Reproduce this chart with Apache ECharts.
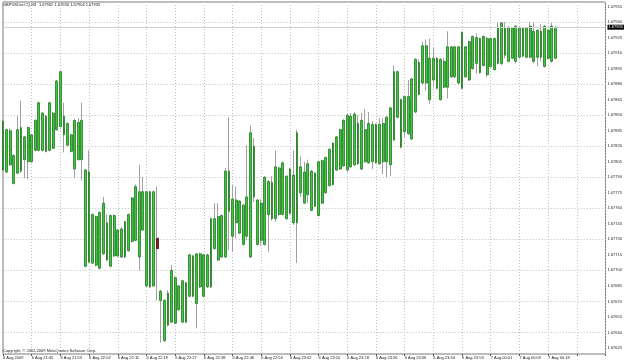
<!DOCTYPE html>
<html>
<head>
<meta charset="utf-8">
<script src="https://cdn.jsdelivr.net/npm/echarts@6/dist/echarts.min.js"></script>
<style>
  html, body { margin: 0; padding: 0; background: #fff; }
  #chart { width: 625px; height: 363px; }
</style>
</head>
<body>
<div id="chart"></div>
<script>
// GBPUSD M1, 6-7 Aug 2009 (MetaTrader screenshot)
const symbolTitle = 'GBPUSDecCQ,M1  1.67905 1.67936 1.67904 1.67935';
const copyright = 'Copyright, \u00a9 2002-2009 MetaQuotes Software Corp.';

// one label every 8 bars
const tickLabels = ['6 Aug 2009', '6 Aug 21:45', '6 Aug 21:53', '6 Aug 22:02', '6 Aug 22:11',
  '6 Aug 22:19', '6 Aug 22:27', '6 Aug 22:38', '6 Aug 22:46', '6 Aug 22:54', '6 Aug 23:02',
  '6 Aug 23:10', '6 Aug 23:18', '6 Aug 23:26', '6 Aug 23:36', '6 Aug 23:44', '6 Aug 23:53',
  '7 Aug 00:01', '7 Aug 00:09', '7 Aug 00:18'];

const opens = [
  1.67844, 1.67795, 1.67835, 1.67811, 1.67794, 1.67838, 1.67807, 1.67838, 1.67805, 1.67845,
  1.67816, 1.67852, 1.67815, 1.67862, 1.67818, 1.67836, 1.67892, 1.67831, 1.67842, 1.67815,
  1.67845, 1.67807, 1.67845, 1.67704, 1.67795, 1.67707, 1.67752, 1.67702, 1.67765, 1.67710,
  1.67753, 1.67714, 1.67739, 1.67713, 1.67747, 1.67719, 1.67770, 1.67729, 1.67776, 1.67739,
  1.67776, 1.67684, 1.67776, 1.67731, 1.67680, 1.67632, 1.67678, 1.67650, 1.67693, 1.67662,
  1.67690, 1.67650, 1.67675, 1.67714, 1.67668, 1.67716, 1.67675, 1.67715, 1.67684, 1.67750,
  1.67710, 1.67753, 1.67713, 1.67796, 1.67769, 1.67746, 1.67767, 1.67725, 1.67771, 1.67713,
  1.67820, 1.67725, 1.67765, 1.67725, 1.67786, 1.67750, 1.67800, 1.67754, 1.67804, 1.67750,
  1.67798, 1.67746, 1.67833, 1.67775, 1.67795, 1.67773, 1.67796, 1.67762, 1.67805, 1.67765,
  1.67809, 1.67782, 1.67823, 1.67797, 1.67836, 1.67801, 1.67850, 1.67800, 1.67851, 1.67803,
  1.67845, 1.67805, 1.67842, 1.67805, 1.67841, 1.67803, 1.67842, 1.67805, 1.67857, 1.67826,
  1.67892, 1.67865, 1.67834, 1.67868, 1.67827, 1.67904, 1.67870, 1.67917, 1.67881, 1.67905,
  1.67884, 1.67905, 1.67865, 1.67902, 1.67877, 1.67916, 1.67887, 1.67916, 1.67876, 1.67916,
  1.67884, 1.67926, 1.67900, 1.67924, 1.67898, 1.67924, 1.67897, 1.67924, 1.67900, 1.67939,
  1.67908, 1.67935, 1.67905, 1.67936, 1.67906, 1.67934, 1.67906, 1.67936, 1.67902, 1.67932,
  1.67906, 1.67936, 1.67905, 1.67936, 1.67905
];
const highs = [
  1.67845, 1.67837, 1.67837, 1.67812, 1.67849, 1.67864, 1.67830, 1.67839, 1.67832, 1.67846,
  1.67863, 1.67853, 1.67850, 1.67863, 1.67853, 1.67884, 1.67893, 1.67862, 1.67843, 1.67832,
  1.67846, 1.67847, 1.67862, 1.67798, 1.67816, 1.67755, 1.67753, 1.67757, 1.67771, 1.67754,
  1.67754, 1.67754, 1.67740, 1.67742, 1.67748, 1.67755, 1.67771, 1.67783, 1.67802, 1.67790,
  1.67777, 1.67777, 1.67777, 1.67781, 1.67681, 1.67672, 1.67681, 1.67705, 1.67694, 1.67686,
  1.67691, 1.67689, 1.67716, 1.67715, 1.67717, 1.67717, 1.67716, 1.67716, 1.67751, 1.67765,
  1.67765, 1.67754, 1.67799, 1.67848, 1.67783, 1.67781, 1.67768, 1.67764, 1.67821, 1.67840,
  1.67828, 1.67769, 1.67769, 1.67791, 1.67787, 1.67791, 1.67816, 1.67800, 1.67805, 1.67792,
  1.67799, 1.67816, 1.67836, 1.67810, 1.67805, 1.67807, 1.67797, 1.67795, 1.67806, 1.67807,
  1.67810, 1.67818, 1.67824, 1.67830, 1.67837, 1.67846, 1.67851, 1.67852, 1.67853, 1.67850,
  1.67852, 1.67856, 1.67853, 1.67844, 1.67842, 1.67847, 1.67847, 1.67849, 1.67858, 1.67898,
  1.67893, 1.67866, 1.67869, 1.67884, 1.67886, 1.67905, 1.67904, 1.67921, 1.67923, 1.67924,
  1.67915, 1.67906, 1.67905, 1.67905, 1.67931, 1.67917, 1.67917, 1.67917, 1.67931, 1.67917,
  1.67922, 1.67927, 1.67929, 1.67925, 1.67927, 1.67926, 1.67925, 1.67925, 1.67939, 1.67940,
  1.67940, 1.67936, 1.67935, 1.67937, 1.67935, 1.67935, 1.67935, 1.67940, 1.67940, 1.67933,
  1.67938, 1.67937, 1.67933, 1.67939, 1.67936
];
const lows = [
  1.67796, 1.67794, 1.67801, 1.67783, 1.67793, 1.67794, 1.67789, 1.67788, 1.67804, 1.67815,
  1.67815, 1.67815, 1.67814, 1.67815, 1.67817, 1.67835, 1.67838, 1.67814, 1.67820, 1.67814,
  1.67789, 1.67806, 1.67787, 1.67703, 1.67707, 1.67706, 1.67704, 1.67701, 1.67715, 1.67709,
  1.67703, 1.67713, 1.67713, 1.67712, 1.67712, 1.67718, 1.67727, 1.67728, 1.67700, 1.67738,
  1.67684, 1.67683, 1.67684, 1.67671, 1.67630, 1.67631, 1.67646, 1.67649, 1.67648, 1.67661,
  1.67649, 1.67649, 1.67674, 1.67674, 1.67644, 1.67683, 1.67674, 1.67683, 1.67683, 1.67720,
  1.67709, 1.67712, 1.67712, 1.67720, 1.67718, 1.67731, 1.67735, 1.67724, 1.67729, 1.67712,
  1.67766, 1.67724, 1.67724, 1.67724, 1.67718, 1.67748, 1.67747, 1.67753, 1.67753, 1.67749,
  1.67754, 1.67744, 1.67707, 1.67771, 1.67764, 1.67765, 1.67757, 1.67761, 1.67752, 1.67764,
  1.67774, 1.67781, 1.67782, 1.67796, 1.67797, 1.67800, 1.67795, 1.67799, 1.67801, 1.67802,
  1.67797, 1.67804, 1.67803, 1.67798, 1.67803, 1.67802, 1.67793, 1.67790, 1.67791, 1.67825,
  1.67847, 1.67818, 1.67829, 1.67831, 1.67826, 1.67852, 1.67869, 1.67880, 1.67874, 1.67861,
  1.67877, 1.67875, 1.67864, 1.67876, 1.67866, 1.67886, 1.67886, 1.67880, 1.67875, 1.67886,
  1.67883, 1.67894, 1.67890, 1.67890, 1.67897, 1.67887, 1.67896, 1.67893, 1.67899, 1.67898,
  1.67905, 1.67901, 1.67904, 1.67900, 1.67905, 1.67906, 1.67905, 1.67905, 1.67900, 1.67897,
  1.67902, 1.67896, 1.67904, 1.67901, 1.67904
];
const closes = [
  1.67797, 1.67836, 1.67802, 1.67784, 1.67836, 1.67796, 1.67829, 1.67805, 1.67831, 1.67816,
  1.67862, 1.67816, 1.67849, 1.67816, 1.67852, 1.67883, 1.67839, 1.67849, 1.67821, 1.67831,
  1.67798, 1.67843, 1.67807, 1.67797, 1.67708, 1.67754, 1.67705, 1.67756, 1.67716, 1.67746,
  1.67704, 1.67753, 1.67714, 1.67740, 1.67713, 1.67754, 1.67728, 1.67781, 1.67713, 1.67776,
  1.67685, 1.67776, 1.67685, 1.67721, 1.67671, 1.67671, 1.67647, 1.67700, 1.67649, 1.67685,
  1.67650, 1.67688, 1.67715, 1.67675, 1.67716, 1.67684, 1.67715, 1.67684, 1.67750, 1.67721,
  1.67752, 1.67713, 1.67796, 1.67757, 1.67733, 1.67768, 1.67736, 1.67763, 1.67733, 1.67833,
  1.67771, 1.67768, 1.67729, 1.67790, 1.67754, 1.67785, 1.67750, 1.67799, 1.67754, 1.67791,
  1.67755, 1.67792, 1.67746, 1.67800, 1.67765, 1.67803, 1.67758, 1.67794, 1.67753, 1.67806,
  1.67775, 1.67817, 1.67783, 1.67829, 1.67798, 1.67845, 1.67797, 1.67849, 1.67802, 1.67842,
  1.67798, 1.67836, 1.67804, 1.67841, 1.67804, 1.67841, 1.67805, 1.67848, 1.67802, 1.67892,
  1.67848, 1.67819, 1.67868, 1.67832, 1.67885, 1.67853, 1.67901, 1.67881, 1.67917, 1.67865,
  1.67905, 1.67876, 1.67904, 1.67877, 1.67916, 1.67887, 1.67916, 1.67881, 1.67930, 1.67887,
  1.67921, 1.67895, 1.67925, 1.67891, 1.67926, 1.67889, 1.67924, 1.67894, 1.67935, 1.67900,
  1.67935, 1.67902, 1.67934, 1.67902, 1.67934, 1.67907, 1.67934, 1.67906, 1.67931, 1.67906,
  1.67931, 1.67897, 1.67932, 1.67902, 1.67935
];

// price scale ticks on the right
const priceTickMin = 1.67625;
const priceTickMax = 1.67955;
const priceTickStep = 0.00015;
// dotted horizontal grid: every second price tick
const gridLineMin = 1.67640;
const gridLineMax = 1.67940;
const gridLineStep = 0.00030;

// prices are handled in 0.00001 units above BASE to keep the axis maths exact
const BASE = 1.676;
const toPip = v => Math.round((v - BASE) * 1e5);
const fmtPrice = p => (BASE + p / 1e5).toFixed(5);

const redBar = 43;       // the single dark red candle
const emptySlots = 14;   // chart shift on the right
const slots = opens.length + emptySlots;
const cats = [];
for (let i = 0; i < slots; i++) cats.push('b' + i);

// pixel mapping: 1.67625 -> y 348, 1.67955 -> y 6.5, frame 2..354
const H = 363;
const pxPerPip = (348 - 6.5) / (toPip(priceTickMax) - toPip(priceTickMin));
const frameTop = 2, frameBottom = 354;
const yMax = toPip(priceTickMax) + (6.5 - frameTop) / pxPerPip;
const yMin = toPip(priceTickMin) - (frameBottom - 348) / pxPerPip;
const yOf = p => frameTop + (yMax - p) * pxPerPip;

const fullData = opens.map((o, i) => [toPip(o), toPip(closes[i]), toPip(lows[i]), toPip(highs[i])]);
const bodyData = opens.map((o, i) => {
  const a = toPip(o), b = toPip(closes[i]);
  const item = { value: [a, b, Math.min(a, b), Math.max(a, b)] };
  if (i === redBar) item.itemStyle = { color: '#9b1c1c', color0: '#9b1c1c', borderColor: '#4a0a0a', borderColor0: '#4a0a0a' };
  return item;
});

const font = { fontFamily: 'Liberation Sans, Arial, sans-serif', fontSize: 4, color: '#222' };
const gridLine = { color: '#bdbdbd', width: 1, type: [1, 2] };
const lastClose = closes[closes.length - 1];
const plotLeft = 1.7, plotRight = 19.5;

const chart = echarts.init(document.getElementById('chart'), null, { renderer: 'canvas' });
chart.setOption({
  animation: false,
  backgroundColor: '#fff',
  title: [
    { text: symbolTitle, left: 3, top: 3, padding: 0, textStyle: Object.assign({ fontWeight: 'normal' }, font) },
    { text: copyright, left: 3, top: 349, padding: 0, textStyle: Object.assign({ fontWeight: 'normal' }, font) }
  ],
  grid: [
    // candles + frame
    { left: plotLeft, right: plotRight, top: frameTop, bottom: H - frameBottom, show: true,
      borderColor: '#7a7a7a', borderWidth: 1, backgroundColor: 'transparent' },
    // price labels
    { left: plotLeft, right: plotRight, top: yOf(toPip(priceTickMax)), bottom: H - yOf(toPip(priceTickMin)) },
    // horizontal dotted lines
    { left: plotLeft, right: plotRight, top: yOf(toPip(gridLineMax)), bottom: H - yOf(toPip(gridLineMin)) }
  ],
  xAxis: [
    {
      type: 'category', gridIndex: 0, data: cats, boundaryGap: false,
      axisLine: { show: false },
      axisTick: { show: true, interval: 7, length: 2, lineStyle: { color: '#555' } },
      axisLabel: {
        interval: 7, align: 'left', margin: 2, ...font,
        formatter: (v, i) => tickLabels[i / 8] || ''
      },
      splitLine: { show: true, interval: 7, lineStyle: gridLine }
    },
    { type: 'value', gridIndex: 1, show: false },
    { type: 'value', gridIndex: 2, show: false }
  ],
  yAxis: [
    { type: 'value', gridIndex: 0, min: yMin, max: yMax, show: false, splitLine: { show: false } },
    {
      type: 'value', gridIndex: 1, position: 'right',
      min: toPip(priceTickMin), max: toPip(priceTickMax), interval: Math.round(priceTickStep * 1e5),
      axisLine: { show: false }, axisTick: { show: false },
      axisLabel: { margin: 3.5, ...font, formatter: v => fmtPrice(v) },
      splitLine: { show: false }
    },
    {
      type: 'value', gridIndex: 2,
      min: toPip(gridLineMin), max: toPip(gridLineMax), interval: Math.round(gridLineStep * 1e5),
      axisLine: { show: false }, axisTick: { show: false }, axisLabel: { show: false },
      splitLine: { show: true, lineStyle: gridLine }
    }
  ],
  series: [
    {
      name: 'wick', type: 'candlestick', xAxisIndex: 0, yAxisIndex: 0, clip: false,
      barWidth: 1,
      itemStyle: { color: '#a0a0a0', color0: '#a0a0a0', borderColor: '#a0a0a0', borderColor0: '#a0a0a0', borderWidth: 1 },
      data: fullData
    },
    {
      name: 'body', type: 'candlestick', xAxisIndex: 0, yAxisIndex: 0, clip: false,
      barWidth: 2.3,
      itemStyle: { color: '#3cc83c', color0: '#3cc83c', borderColor: '#237a23', borderColor0: '#237a23', borderWidth: 0.8 },
      data: bodyData,
      markLine: {
        silent: true, symbol: ['none', 'none'],
        lineStyle: { color: '#d2d2d2', width: 1, type: 'solid' },
        label: {
          show: true, position: 'end', distance: 2,
          formatter: () => lastClose.toFixed(5),
          backgroundColor: '#000', color: '#fff', fontFamily: font.fontFamily, fontSize: 4, padding: [1, 1, 0, 1]
        },
        data: [{ yAxis: toPip(lastClose) }]
      }
    }
  ]
});
</script>
</body>
</html>
